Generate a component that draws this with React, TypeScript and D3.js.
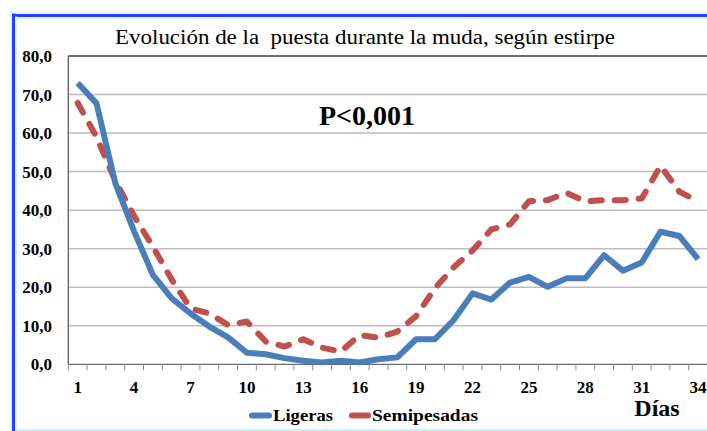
import React, { useEffect, useRef } from "react";
import * as d3 from "d3";

// days on the x axis
const dias = [1, 2, 3, 4, 5, 6, 7, 8, 9, 10, 11, 12, 13, 14, 15, 16, 17, 18, 19, 20, 21, 22, 23, 24, 25, 26, 27, 28, 29, 30, 31, 32, 33, 34];
const diasLabels = [1, 4, 7, 10, 13, 16, 19, 22, 25, 28, 31, 34];

// % puesta
const ligeras = [73.0, 67.7, 47.0, 34.5, 23.2, 17.1, 13.2, 9.8, 7.0, 3.0, 2.6, 1.6, 0.9, 0.5, 0.9, 0.5, 1.3, 1.8, 6.5, 6.5, 11.5, 18.4, 16.8, 21.2, 22.7, 20.1, 22.3, 22.3, 28.3, 24.3, 26.4, 34.4, 33.3, 27.3];
const semipesadas = [67.8, 59.0, 47.6, 38.5, 30.5, 22.0, 14.5, 13.2, 10.2, 11.1, 5.9, 4.6, 6.5, 4.3, 3.3, 7.6, 6.9, 8.5, 12.5, 19.7, 25.2, 29.5, 35.0, 36.3, 42.3, 42.6, 44.5, 42.3, 42.6, 42.6, 43.0, 51.5, 44.8, 42.3];

const yTicks = [0, 10, 20, 30, 40, 50, 60, 70, 80];

const W = 707;
const H = 431;
const serif = "Liberation Serif, DejaVu Serif, serif";

const PuestaChart = () => {
  const ref = useRef<SVGSVGElement>(null);

  useEffect(() => {
    const svg = d3.select(ref.current);
    svg.selectAll("*").remove();

    const x = d3.scaleBand<number>().domain(dias).range([68.3, 707.5]).padding(0);
    const y = d3.scaleLinear().domain([0, 80]).range([364.3, 56]);
    const cx = (d: number) => (x(d) as number) + x.bandwidth() / 2;

    // outer frame (blue with a light glow)
    const frame = svg.append("g");
    frame.append("line").attr("x1", 14).attr("x2", W).attr("y1", 430).attr("y2", 430)
      .attr("stroke", "#c6f3fb").attr("stroke-width", 2);
    [[11, "#bfeeff", 1], [13.5, "#2b3cff", 3], [16, "#bfeeff", 1]].forEach(([p, c, w]) => {
      frame.append("line").attr("x1", p).attr("x2", p).attr("y1", p).attr("y2", H)
        .attr("stroke", c as string).attr("stroke-width", w as number);
      frame.append("line").attr("x1", p).attr("x2", W).attr("y1", (p as number) + 2).attr("y2", (p as number) + 2)
        .attr("stroke", c as string).attr("stroke-width", w as number);
    });

    // grid
    svg.append("g").selectAll("line")
      .data(yTicks.filter(t => t > 0))
      .join("line")
      .attr("x1", 68.3).attr("x2", W)
      .attr("y1", d => y(d)).attr("y2", d => y(d))
      .attr("stroke", d => (d === 80 ? "#404040" : "#bdbdbd"))
      .attr("stroke-width", 1.5);

    const txt = svg.append("g").style("font-family", serif);

    // y axis
    svg.append("line").attr("x1", 68.3).attr("x2", 68.3).attr("y1", y(80)).attr("y2", y(0))
      .attr("stroke", "#5a5a5a").attr("stroke-width", 1.3);
    txt.append("g").selectAll("text")
      .data(yTicks)
      .join("text")
      .attr("x", 52).attr("y", d => y(d) + 6)
      .attr("text-anchor", "end")
      .attr("font-weight", "bold").attr("font-size", 17)
      .text(d => d3.format(".1f")(d).replace(".", ","));

    // x axis
    svg.append("line").attr("x1", 68.3).attr("x2", W).attr("y1", y(0)).attr("y2", y(0))
      .attr("stroke", "#6a6a6a").attr("stroke-width", 1.3);
    svg.append("g").selectAll("line")
      .data(dias)
      .join("line")
      .attr("x1", d => x(d) as number).attr("x2", d => x(d) as number)
      .attr("y1", y(0)).attr("y2", y(0) + 6)
      .attr("stroke", "#8a8a8a").attr("stroke-width", 1);
    txt.append("g").selectAll("text")
      .data(diasLabels)
      .join("text")
      .attr("x", d => cx(d)).attr("y", 393)
      .attr("text-anchor", "middle")
      .attr("font-weight", "bold").attr("font-size", 17)
      .text(d => d);

    // series
    const line = d3.line<number>().x((_, i) => cx(dias[i])).y(d => y(d));
    svg.append("path").datum(semipesadas)
      .attr("d", line).attr("fill", "none")
      .attr("stroke", "#c0504d").attr("stroke-width", 6)
      .attr("stroke-linecap", "round").attr("stroke-linejoin", "round")
      .attr("stroke-dasharray", "11 13");
    svg.append("path").datum(ligeras)
      .attr("d", line).attr("fill", "none")
      .attr("stroke", "#4a7ebb").attr("stroke-width", 6)
      .attr("stroke-linejoin", "round");

    // titles
    txt.append("text").attr("x", 365).attr("y", 44).attr("text-anchor", "middle")
      .attr("font-size", 20)
      .attr("textLength", 500).attr("lengthAdjust", "spacingAndGlyphs")
      .style("white-space", "pre")
      .text("Evolución de la  puesta durante la muda, según estirpe");
    txt.append("text").attr("x", 367).attr("y", 125).attr("text-anchor", "middle")
      .attr("font-weight", "bold").attr("font-size", 28)
      .text("P<0,001");
    txt.append("text").attr("x", 657).attr("y", 416).attr("text-anchor", "middle")
      .attr("font-weight", "bold").attr("font-size", 24)
      .text("Días");

    // legend
    const legend = [
      { name: "Ligeras", color: "#4a7ebb", x0: 252, tx: 273, len: 60 },
      { name: "Semipesadas", color: "#c0504d", x0: 352, tx: 372, len: 106 },
    ];
    const lg = txt.append("g").selectAll("g").data(legend).join("g");
    lg.append("line")
      .attr("x1", d => d.x0).attr("x2", d => d.tx - 4)
      .attr("y1", 415.5).attr("y2", 415.5)
      .attr("stroke", d => d.color).attr("stroke-width", 6).attr("stroke-linecap", "round");
    lg.append("text")
      .attr("x", d => d.tx).attr("y", 421)
      .attr("font-weight", "bold").attr("font-size", 17)
      .attr("textLength", d => d.len).attr("lengthAdjust", "spacingAndGlyphs")
      .text(d => d.name);
  }, []);

  return (
    <svg ref={ref} width={W} height={H}
      style={{ position: "absolute", left: 0, top: 0, background: "#fff" }} />
  );
};

export default function App() {
  return (
    <div>
      <PuestaChart />
    </div>
  );
}
